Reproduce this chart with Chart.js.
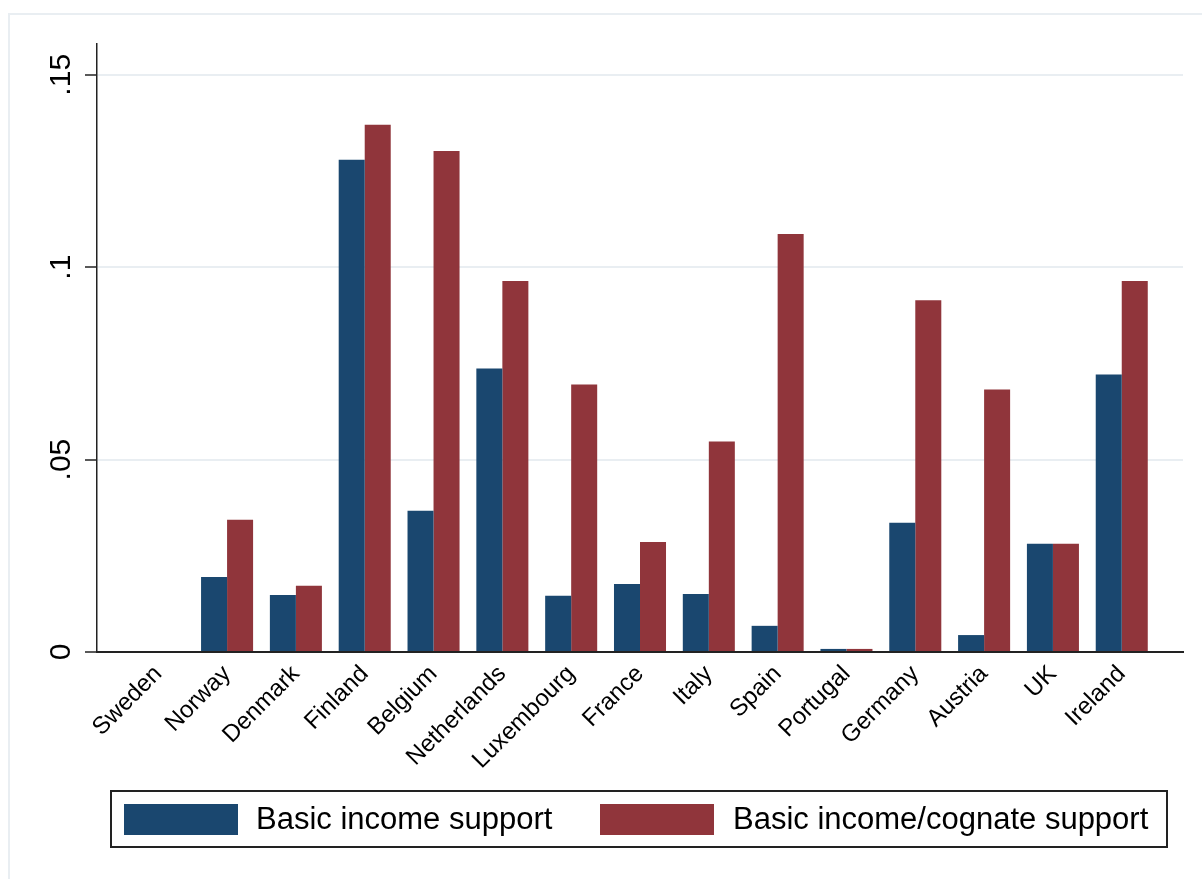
<!DOCTYPE html>
<html lang="en">
<head>
  <meta charset="UTF-8" />
  <title>Basic income support by country</title>
  <script src="https://cdn.jsdelivr.net/npm/chart.js"></script>
  <style>
    body { margin: 0; background: #fff; font-family: "Liberation Sans", Arial, sans-serif; }
    #wrap { position: relative; width: 1202px; height: 879px; overflow: hidden; }
    #frame { position: absolute; left: 8px; top: 13px; width: 1210px; height: 900px; border: 2px solid #e9eef2; box-sizing: border-box; }
    canvas { position: absolute; left: 0; top: 0; }
    #legend { position: absolute; left: 110px; top: 790px; width: 1058px; height: 58px; border: 2px solid #222; box-sizing: border-box; }
    .sw { position: absolute; top: 12px; width: 114px; height: 31px; }
    .lab { position: absolute; top: 10px; font-size: 31px; line-height: 34px; color: #000; }
  </style>
</head>
<body>
  <div id="wrap">
    <div id="frame"></div>
    <canvas id="chart" width="1202" height="879"></canvas>
    <div id="legend">
      <div class="sw" style="left:12px;background:#1a476f"></div>
      <div class="lab" style="left:144px">Basic income support</div>
      <div class="sw" style="left:488px;background:#90353b"></div>
      <div class="lab" style="left:621px">Basic income/cognate support</div>
    </div>
  </div>

  <script>
    const countries = ["Sweden", "Norway", "Denmark", "Finland", "Belgium", "Netherlands", "Luxembourg",
      "France", "Italy", "Spain", "Portugal", "Germany", "Austria", "UK", "Ireland"];
    const basicIncome = [0, 0.0195, 0.0148, 0.1279, 0.0367, 0.0737, 0.0146, 0.0177, 0.0151, 0.0068, 0.0008, 0.0336, 0.0044, 0.0281, 0.0721];
    const cognate = [0, 0.0344, 0.0172, 0.1370, 0.1302, 0.0964, 0.0695, 0.0286, 0.0547, 0.1086, 0.0008, 0.0914, 0.0682, 0.0281, 0.0964];
    const yTicks = [0, 0.05, 0.1, 0.15];

    const toPoints = arr => arr.map((v, i) => ({ x: i, y: v }));

    const ctx = document.getElementById("chart").getContext("2d");
    new Chart(ctx, {
      type: 'bar',
      data: {
        datasets: [{
          label: 'Basic income support',
          data: toPoints(basicIncome),
          backgroundColor: '#1a476f',
          borderWidth: 0
        }, {
          label: 'Basic income/cognate support',
          data: toPoints(cognate),
          backgroundColor: '#90353b',
          borderWidth: 0
        }]
      },
      options: {
        responsive: false,
        animation: false,
        categoryPercentage: 0.756,
        barPercentage: 1,
        layout: { padding: { top: 44, right: 19, left: 0, bottom: 0 } },
        plugins: { legend: { display: false }, tooltip: { enabled: false } },
        scales: {
          x: {
            type: 'linear',
            offset: false,
            min: -0.89,
            max: 14.89,
            afterBuildTicks: axis => { axis.ticks = countries.map((c, i) => ({ value: i })); },
            afterFit: axis => { axis.height = 227; },
            grid: { display: false, drawTicks: false, offset: false },
            border: { display: true, color: '#222', width: 2 },
            ticks: {
              autoSkip: false,
              minRotation: 45,
              maxRotation: 45,
              padding: 8,
              color: '#000',
              font: { family: '"Liberation Sans", Arial', size: 24 },
              callback: v => countries[v] || ''
            }
          },
          y: {
            min: 0,
            max: 0.158,
            afterBuildTicks: axis => { axis.ticks = yTicks.map(v => ({ value: v })); },
            afterFit: axis => { axis.width = 97; },
            grid: { color: '#e9eef2', lineWidth: 2, tickColor: '#222', tickLength: 12, tickWidth: 1.5 },
            border: { display: true, color: '#222', width: 1.5 },
            ticks: {
              minRotation: 90,
              maxRotation: 90,
              crossAlign: 'center',
              padding: 2,
              color: '#000',
              font: { family: '"Liberation Sans", Arial', size: 30 },
              callback: v => v === 0 ? '0' : String(v).replace(/^0/, '')
            }
          }
        }
      }
    });
  </script>
</body>
</html>
